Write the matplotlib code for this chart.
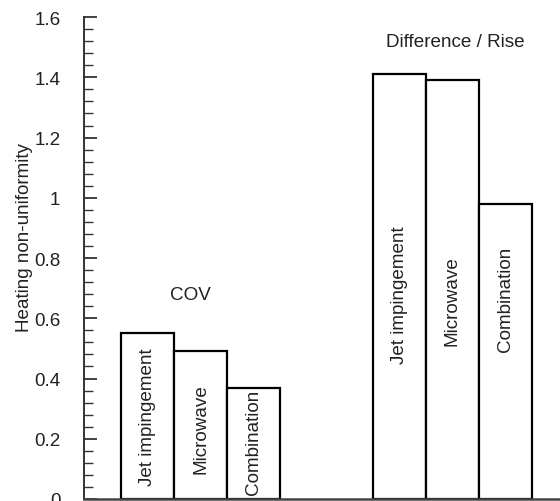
import matplotlib
matplotlib.use("Agg")
import matplotlib.pyplot as plt
from matplotlib.ticker import MultipleLocator

plt.rcParams['font.family'] = ['Liberation Sans', 'DejaVu Sans']

# data
methods = ['Jet impingement', 'Microwave', 'Combination']
groups = ['COV', 'Difference / Rise']
cov_values = [0.55, 0.49, 0.37]
rise_values = [1.41, 1.39, 0.98]
yticks = [0, 0.2, 0.4, 0.6, 0.8, 1.0, 1.2, 1.4, 1.6]
ytick_labels = ['0', '0.2', '0.4', '0.6', '0.8', '1', '1.2', '1.4', '1.6']

# layout (bar-width units along x)
cov_x = [1.2, 2.2, 3.2]
rise_x = [5.95, 6.95, 7.95]
cov_label_y = [0.275, 0.235, 0.19]
rise_label_y = [0.68, 0.66, 0.665]
group_title_pos = [(2.0, 0.68), (7.0, 1.52)]

fig = plt.figure(figsize=(5.6, 5.02), dpi=100)
ax = fig.add_axes([0.15, 0.004, 0.85, 0.96])

text_color = '#222222'
fs = 13.6

for xs, vals, label_ys in [(cov_x, cov_values, cov_label_y),
                           (rise_x, rise_values, rise_label_y)]:
    ax.bar(xs, vals, width=1.0, color='white', edgecolor='black', linewidth=1.6, zorder=2)
    for x, ly, name in zip(xs, label_ys, methods):
        ax.text(x, ly, name, rotation=90, ha='center', va='center',
                fontsize=fs, color=text_color, zorder=3)

for (gx, gy), g in zip(group_title_pos, groups):
    ax.text(gx, gy, g, ha='center', va='center', fontsize=fs, color=text_color)

ax.set_xlim(0, 8.98)
ax.set_ylim(0, 1.6)
ax.set_xticks([])
ax.set_yticks(yticks)
ax.set_yticklabels(ytick_labels)
ax.yaxis.set_minor_locator(MultipleLocator(0.04))
ax.tick_params(axis='y', which='major', direction='in', length=9, width=1.3,
               pad=17, labelsize=fs, colors='#333333', labelcolor=text_color)
ax.tick_params(axis='y', which='minor', direction='in', length=6.5, width=1.0,
               colors='#333333')

ax.spines['top'].set_visible(False)
ax.spines['right'].set_visible(False)
ax.spines['left'].set_color('#333333')
ax.spines['left'].set_linewidth(1.4)
ax.spines['bottom'].set_color('#444444')
ax.spines['bottom'].set_linewidth(1.8)

ax.set_ylabel('Heating non-uniformity', fontsize=fs, color=text_color,
              va='center')
ax.yaxis.set_label_coords(-0.126, 0.544)

fig.savefig('out.png', dpi=100)
